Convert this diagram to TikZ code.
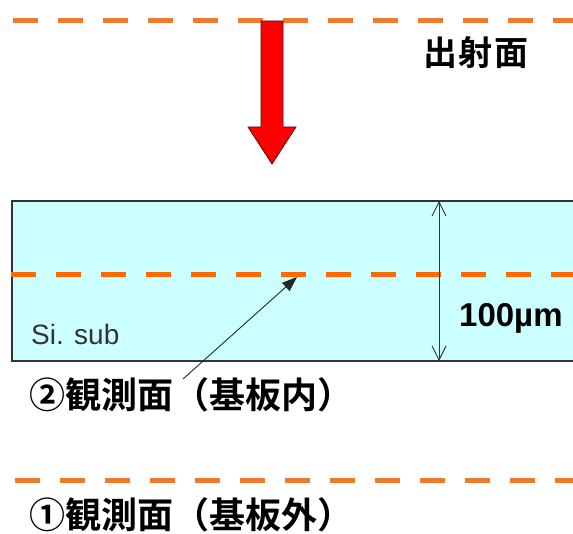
\documentclass[tikz,border=0pt]{standalone}
\usepackage{fontspec}
\setmainfont{Liberation Sans}
\newfontfamily\cjk{Noto Sans CJK JP}[BoldFont={* Bold}]
\usetikzlibrary{arrows.meta}
\definecolor{orangeA}{HTML}{EE7A2E}
\definecolor{orangeB}{HTML}{FF6A00}
\definecolor{cyanbox}{HTML}{CCFFFF}
\definecolor{redA}{HTML}{FF0000}
\definecolor{darkred}{HTML}{501010}
\definecolor{edge}{HTML}{333333}
\tikzset{
  plane/.style={line width=5pt, dash pattern=on 25pt off 20pt, line cap=butt},
  cjklabel/.style={font=\cjk\bfseries\fontsize{36pt}{40pt}\selectfont, inner sep=0pt, anchor=west, text=black},
  dimline/.style={draw=edge, line width=0.9pt, {Straight Barb[length=14pt,width=14pt]}-{Straight Barb[length=14pt,width=14pt]}},
  leader/.style={draw=black!85, line width=0.9pt, -{Triangle[length=15pt,width=11pt]}},
}
\begin{document}
\begin{tikzpicture}[x=1pt,y=-1pt]
\useasboundingbox (0,0) rectangle (573,534);
\clip (0,0) rectangle (573,534);
\fill[white] (0,0) rectangle (573,534);
% substrate
\draw[draw=edge, line width=1.3pt, fill=cyanbox] (12,201) rectangle (640,361);
% planes
\coordinate (t1) at (13,21);  \coordinate (t2) at (640,21);
\coordinate (m1) at (11,275); \coordinate (m2) at (640,275);
\coordinate (b1) at (15,480); \coordinate (b2) at (640,480);
\draw[plane, orangeA] (t1) -- (t2);
\draw[plane, orangeB] (m1) -- (m2);
\draw[plane, orangeA] (b1) -- (b2);
% red arrow
\draw[fill=redA, draw=darkred, line width=0.8pt, line join=miter]
  (261,21) -- (283,21) -- (283,127) -- (296,127) -- (272,164) -- (248,127) -- (261,127) -- cycle;
% labels
\node[font=\cjk\bfseries\fontsize{34pt}{38pt}\selectfont, inner sep=0pt] (out) at (476,53) {出\kern2pt 射\kern2pt 面};
\node[font=\fontsize{28pt}{32pt}\selectfont, text=edge, inner sep=0pt, anchor=base west] (si) at (31,345) {Si. sub};
\node[font=\bfseries\fontsize{33pt}{36pt}\selectfont, inner sep=0pt, anchor=base west] (thick) at (459,327) {100µm};
\node[cjklabel] (obs2) at (29,395) {②観測面（基板内）};
\node[cjklabel] (obs1) at (29,515) {①観測面（基板外）};
% dimension
\coordinate (dtop) at (439,201);
\coordinate (dbot) at (439,361);
\draw[dimline] (dtop) -- (dbot);
% leader
\coordinate (lstart) at (183,379);
\coordinate (ltip) at (297,277);
\draw[leader] (lstart) -- (ltip);
\end{tikzpicture}
\end{document}
